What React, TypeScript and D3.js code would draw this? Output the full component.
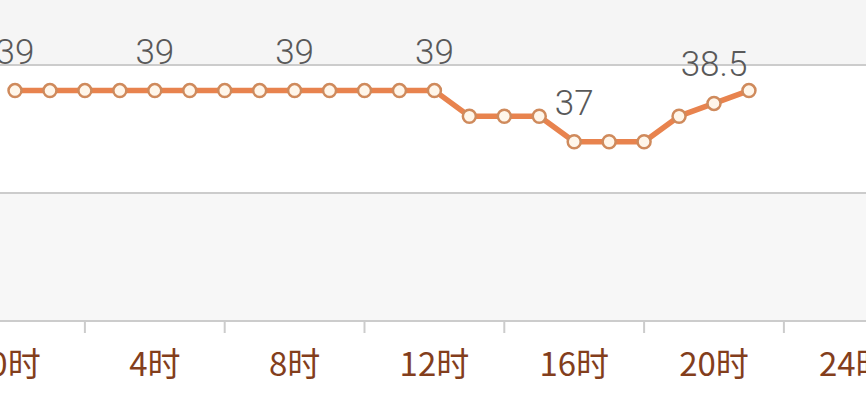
import React from "react";
import * as d3 from "d3";

const hours = [0, 1, 2, 3, 4, 5, 6, 7, 8, 9, 10, 11, 12, 13, 14, 15, 16, 17, 18, 19, 20, 21];
const temps = [39, 39, 39, 39, 39, 39, 39, 39, 39, 39, 39, 39, 39, 38, 38, 38, 37, 37, 37, 38, 38.5, 39];
const labelHours = [0, 4, 8, 12, 16, 20, 24];
const tickHours = [2, 6, 10, 14, 18, 22];
const gridValues = [40, 35];
const yDomain = [30, 40];

const W = 866;
const H = 410;

export default function App() {
  const x = d3.scaleLinear().domain([0, 24]).range([15, 15 + 24 * 34.95]);
  const y = d3.scaleLinear().domain(yDomain).range([321, 65]);
  const line = d3
    .line<number>()
    .x((_, i) => x(hours[i]))
    .y((d) => y(d));
  const axisY = y(yDomain[0]);

  return (
    <svg
      width={W}
      height={H}
      style={{ position: "fixed", left: 0, top: 0, display: "block" }}
    >
      <rect x={0} y={0} width={W} height={H} fill="#ffffff" />
      <rect x={0} y={0} width={W} height={y(40)} fill="#f5f5f5" />
      <rect x={0} y={y(35)} width={W} height={axisY - y(35)} fill="#f7f7f7" />
      {gridValues.map((v) => (
        <line key={v} x1={0} x2={W} y1={y(v)} y2={y(v)} stroke="#cccccc" strokeWidth={2} />
      ))}
      <line x1={0} x2={W} y1={axisY} y2={axisY} stroke="#cccccc" strokeWidth={2} />
      {tickHours.map((h) => (
        <line key={h} x1={x(h)} x2={x(h)} y1={axisY} y2={axisY + 12} stroke="#cccccc" strokeWidth={2} />
      ))}
      {labelHours.map((h) => (
        <text
          key={h}
          x={x(h)}
          y={376}
          textAnchor="middle"
          fontFamily="'Noto Sans CJK SC', 'Noto Sans', sans-serif"
          fontSize={33}
          fill="#833e1c"
        >
          {h}时
        </text>
      ))}
      <path d={line(temps) || ""} fill="none" stroke="#e8834e" strokeWidth={5.5} strokeLinejoin="round" />
      {temps.map((t, i) => (
        <circle
          key={i}
          cx={x(hours[i])}
          cy={y(t)}
          r={6.5}
          fill="#fff6ea"
          stroke="#cf8a5c"
          strokeWidth={2.5}
        />
      ))}
      {temps.map((t, i) =>
        labelHours.includes(hours[i]) ? (
          <text
            key={"l" + i}
            x={x(hours[i])}
            y={y(t) - 27}
            textAnchor="middle"
            fontFamily="Roboto, 'Open Sans', sans-serif"
            fontWeight={300}
            fontSize={35}
            fill="#595959"
          >
            {t}
          </text>
        ) : null
      )}
    </svg>
  );
}
